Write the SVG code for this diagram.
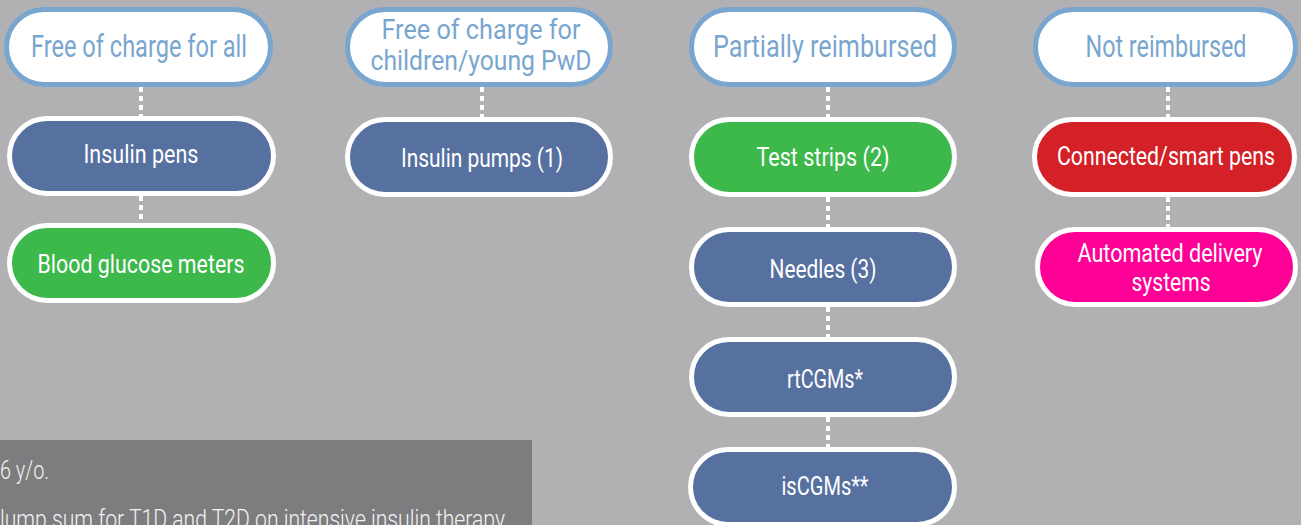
<svg xmlns="http://www.w3.org/2000/svg" width="1301" height="525" viewBox="0 0 1301 525">
<style>
text{font-family:Roboto,"Liberation Sans",sans-serif;text-anchor:middle;font-weight:400;}
.hdr rect{fill:#ffffff;stroke:#79a6cf;stroke-width:5;}
.hdr text{fill:#79a6cf;font-size:30px;}
.node rect{stroke:#ffffff;stroke-width:5;}
.node text{fill:#ffffff;font-size:26px;}
.blue rect{fill:#5670a0;}
.green rect{fill:#3db84a;}
.red rect{fill:#d42027;}
.pink rect{fill:#ff0097;}
.conn line{stroke:#ffffff;stroke-width:4;stroke-dasharray:5 4;}
.note text{fill:#f2f2f2;font-size:25px;text-anchor:start;font-weight:300;}
</style>
<rect x="0" y="0" width="1301" height="525" fill="#b1b1b3"/>
<g id="connectors" class="conn">
<line x1="141" y1="87" x2="141" y2="116"/>
<line x1="141" y1="196" x2="141" y2="223"/>
<line x1="482" y1="87" x2="482" y2="117"/>
<line x1="828" y1="87" x2="828" y2="117"/>
<line x1="828" y1="197" x2="828" y2="227"/>
<line x1="828" y1="307" x2="828" y2="337"/>
<line x1="828" y1="417" x2="828" y2="447"/>
<line x1="1168" y1="87" x2="1168" y2="117"/>
<line x1="1168" y1="197" x2="1168" y2="227"/>
</g>
<g id="h-free-all" class="hdr"><rect x="6.5" y="9.5" width="264" height="75" rx="37.5"/><text x="139" y="57" textLength="216" lengthAdjust="spacingAndGlyphs" style="font-size:31px">Free of charge for all</text></g>
<g id="h-free-children" class="hdr"><rect x="347.5" y="9.5" width="263" height="75" rx="37.5"/><text x="481" y="39" textLength="199" lengthAdjust="spacingAndGlyphs" style="font-size:27px">Free of charge for</text><text x="481" y="70" textLength="221" lengthAdjust="spacingAndGlyphs" style="font-size:27px">children/young PwD</text></g>
<g id="h-partial" class="hdr"><rect x="691.5" y="9.5" width="263" height="75" rx="37.5"/><text x="825" y="57" textLength="224" lengthAdjust="spacingAndGlyphs" style="font-size:31px">Partially reimbursed</text></g>
<g id="h-not" class="hdr"><rect x="1035.5" y="9.5" width="260" height="75" rx="37.5"/><text x="1166" y="57" textLength="161" lengthAdjust="spacingAndGlyphs" style="font-size:31px">Not reimbursed</text></g>
<g id="n-insulin-pens" class="node blue"><rect x="9.5" y="118.5" width="264" height="75" rx="37.5"/><text x="141" y="163" textLength="115" lengthAdjust="spacingAndGlyphs">Insulin pens</text></g>
<g id="n-bgm" class="node green"><rect x="9.5" y="225.5" width="264" height="75" rx="37.5"/><text x="141" y="273" textLength="207" lengthAdjust="spacingAndGlyphs">Blood glucose meters</text></g>
<g id="n-pumps" class="node blue"><rect x="347.5" y="119.5" width="263" height="75" rx="37.5"/><text x="482" y="167" textLength="162" lengthAdjust="spacingAndGlyphs">Insulin pumps (1)</text></g>
<g id="n-strips" class="node green"><rect x="691.5" y="119.5" width="263" height="75" rx="37.5"/><text x="823" y="166" textLength="133" lengthAdjust="spacingAndGlyphs">Test strips (2)</text></g>
<g id="n-needles" class="node blue"><rect x="691.5" y="229.5" width="263" height="75" rx="37.5"/><text x="823" y="278" textLength="107" lengthAdjust="spacingAndGlyphs">Needles (3)</text></g>
<g id="n-rtcgm" class="node blue"><rect x="691.5" y="339.5" width="263" height="75" rx="37.5"/><text x="825" y="388" textLength="76" lengthAdjust="spacingAndGlyphs">rtCGMs*</text></g>
<g id="n-iscgm" class="node blue"><rect x="690.5" y="449.5" width="264" height="75" rx="37.5"/><text x="825" y="495" textLength="87" lengthAdjust="spacingAndGlyphs">isCGMs**</text></g>
<g id="n-smartpens" class="node red"><rect x="1034.5" y="119.5" width="260" height="75" rx="37.5"/><text x="1166" y="165" textLength="218" lengthAdjust="spacingAndGlyphs">Connected/smart pens</text></g>
<g id="n-automated" class="node pink"><rect x="1037.5" y="229.5" width="258" height="75" rx="37.5"/><text x="1170" y="262" textLength="185" lengthAdjust="spacingAndGlyphs">Automated delivery</text><text x="1171" y="291" textLength="79" lengthAdjust="spacingAndGlyphs">systems</text></g>
<g id="note" class="note"><rect x="0" y="440" width="532" height="85" fill="#7d7d7f"/><text x="0" y="479" textLength="49" lengthAdjust="spacingAndGlyphs">6 y/o.</text><text x="0" y="528" textLength="505" lengthAdjust="spacingAndGlyphs">lump sum for T1D and T2D on intensive insulin therapy</text></g>
</svg>
